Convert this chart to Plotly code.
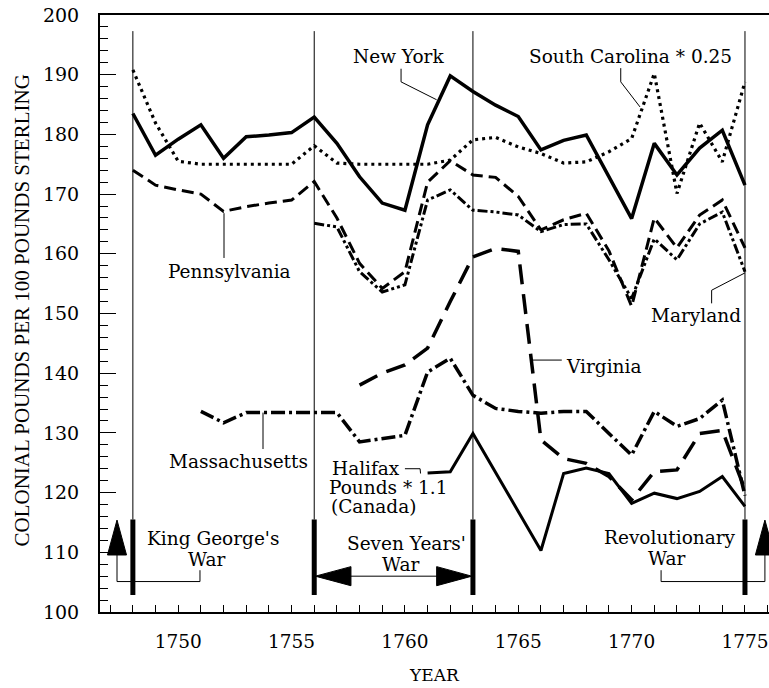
import plotly.graph_objects as go

# ---------------- data ----------------
years_full = list(range(1748, 1776))
new_york = [183.5, 176.5, 179.2, 181.6, 176.0, 179.6, 179.9, 180.3, 182.9, 178.5,
            172.9, 168.5, 167.3, 181.6, 189.8, 187.2, 184.9, 183.0, 177.4, 179.0,
            179.9, 172.9, 165.9, 178.5, 173.2, 177.7, 180.7, 171.5]
south_carolina = [190.8, 181.9, 175.5, 175.0, 175.0, 175.0, 175.0, 175.0, 178.1, 175.2,
                  175.0, 175.0, 175.0, 175.0, 175.7, 179.1, 179.5, 177.9, 176.8, 175.2,
                  175.4, 177.1, 179.3, 190.2, 170.1, 181.9, 175.4, 188.8]
pennsylvania = [174.0, 171.5, 170.7, 170.0, 167.1, 167.9, 168.5, 169.0, 172.1, 166.0,
                158.4, 154.2, 157.0, 172.0, 175.6, 173.2, 172.8, 169.6, 164.0, 165.7,
                166.8, 160.5, 151.2, 166.0, 161.0, 166.5, 169.0, 161.0]
years_maryland = list(range(1756, 1776))
maryland = [165.1, 164.5, 157.0, 153.6, 154.8, 169.0, 170.7, 167.3, 167.0, 166.5,
            163.7, 164.9, 165.0, 159.0, 152.5, 162.5, 159.0, 165.0, 167.0, 157.0]
years_virginia = list(range(1758, 1776))
virginia = [138.0, 140.0, 141.4, 144.2, 152.0, 159.5, 160.9, 160.4, 128.8, 125.7,
            124.9, 122.7, 118.8, 123.5, 123.8, 129.9, 130.4, 120.5]
years_mass = list(range(1751, 1776))
massachusetts = [133.6, 131.7, 133.4, 133.4, 133.4, 133.4, 133.4, 128.5, 129.0, 129.6,
                 140.2, 142.5, 136.3, 134.1, 133.6, 133.3, 133.6, 133.6, 129.9, 126.3,
                 133.6, 131.1, 132.4, 135.5, 119.5]
years_halifax = [1761, 1762, 1763, 1766, 1767, 1768, 1769, 1770, 1771, 1772, 1773, 1774, 1775]
halifax = [123.3, 123.5, 129.9, 110.3, 123.2, 124.1, 123.2, 118.2, 119.9, 119.0, 120.2, 122.7, 117.7]

war_years = [1748, 1756, 1763, 1775]
x_tick_vals = [1750, 1755, 1760, 1765, 1770, 1775]
y_tick_vals = [100, 110, 120, 130, 140, 150, 160, 170, 180, 190, 200]

FONT = "DejaVu Serif"
BLACK = "#000000"
LBL = 18.5

fig = go.Figure()

def add_series(x, y, width, dash):
    fig.add_trace(go.Scatter(x=x, y=y, mode="lines",
                             line=dict(color=BLACK, width=width, dash=dash),
                             showlegend=False, hoverinfo="skip"))

add_series(years_full, south_carolina, 3.2, "3px,4px")
add_series(years_full, pennsylvania, 3, "12px,6px")
add_series(years_maryland, maryland, 3, "10px,3px,3px,3px,3px,3px")
add_series(years_virginia, virginia, 3.5, "20px,10px")
add_series(years_mass, massachusetts, 3.5, "14px,4px,3px,4px")
add_series(years_halifax, halifax, 3, "solid")
add_series(years_full, new_york, 3.5, "solid")

shapes = []
# war boundary lines: thin above, thick at bottom
for wy in war_years:
    shapes.append(dict(type="line", xref="x", yref="y", x0=wy, x1=wy, y0=115.5, y1=197.3,
                       line=dict(color=BLACK, width=1)))
    shapes.append(dict(type="line", xref="x", yref="y", x0=wy, x1=wy, y0=102.85, y1=115.5,
                       line=dict(color=BLACK, width=5)))

def tri(points):
    p = "M " + " L ".join(f"{x},{y}" for x, y in points) + " Z"
    return dict(type="path", xref="x", yref="y", path=p, fillcolor=BLACK,
                line=dict(color=BLACK, width=1))

def seg(x0, y0, x1, y1, w=1):
    return dict(type="line", xref="x", yref="y", x0=x0, y0=y0, x1=x1, y1=y1,
                line=dict(color=BLACK, width=w))

# King George's War arrow (up, at left)
kx = 1747.30
shapes.append(tri([(kx, 115.4), (kx - 0.42, 109.55), (kx + 0.42, 109.55)]))
shapes.append(seg(kx, 109.55, kx, 105.1))
shapes.append(seg(kx, 105.1, 1750.96, 105.1))
shapes.append(seg(1750.96, 105.1, 1750.96, 107.0))
# Revolutionary War arrow (up, at right)
rx = 1775.88
shapes.append(tri([(rx, 115.4), (rx - 0.42, 109.55), (rx + 0.42, 109.55)]))
shapes.append(seg(rx, 109.55, rx, 105.1))
shapes.append(seg(rx, 105.1, 1771.3, 105.1))
shapes.append(seg(1771.3, 105.1, 1771.3, 107.0))
# Seven Years' War double arrow
sy = 106.0
shapes.append(seg(1757.5, sy, 1761.5, sy))
shapes.append(tri([(1756.05, sy), (1757.62, sy + 1.6), (1757.62, sy - 1.6)]))
shapes.append(tri([(1762.95, sy), (1761.40, sy + 1.6), (1761.40, sy - 1.6)]))

# leader lines
shapes += [
    seg(1759.83, 191.0, 1759.83, 188.8), seg(1759.83, 188.8, 1761.40, 185.8),   # New York
    seg(1769.52, 191.1, 1769.52, 188.8), seg(1769.52, 188.8, 1770.37, 184.6),   # South Carolina
    seg(1752.02, 166.8, 1752.02, 159.3),                                         # Pennsylvania
    seg(1753.74, 133.4, 1753.74, 127.3),                                         # Massachusetts
    seg(1765.65, 142.2, 1766.92, 142.2),                                         # Virginia
    seg(1773.53, 151.7, 1773.53, 153.9), seg(1773.53, 153.9, 1775.0, 156.8),     # Maryland
    seg(1760.0, 124.0, 1760.67, 124.0), seg(1760.67, 124.0, 1760.69, 123.2),     # Halifax
]

fig.update_layout(shapes=shapes)

ann = []
def label(x, y, text, xanchor="center", size=LBL):
    ann.append(dict(x=x, y=y, xref="x", yref="y", text=text, showarrow=False,
                    xanchor=xanchor, yanchor="middle",
                    font=dict(family=FONT, size=size, color=BLACK)))

label(1759.70, 193.0, "New York")
label(1769.93, 193.0, "South Carolina * 0.25")
label(1752.28, 157.0, "Pennsylvania")
label(1752.64, 125.2, "Massachusetts")
label(1768.75, 141.1, "Virginia")
label(1772.83, 149.6, "Maryland")
label(1756.70, 124.1, "Halifax", "left")
label(1756.56, 120.8, "Pounds * 1.1", "left")
label(1756.65, 117.6, "(Canada)", "left")
label(1751.55, 112.3, "King George's")
label(1751.26, 108.8, "War")
label(1760.08, 111.4, "Seven Years'")
label(1759.81, 107.9, "War")
label(1771.69, 112.4, "Revolutionary")
label(1771.54, 109.0, "War")

ann.append(dict(x=-0.1166, y=0.505, xref="paper", yref="paper",
                text="COLONIAL POUNDS PER 100 POUNDS STERLING", showarrow=False,
                textangle=-90, xanchor="center", yanchor="middle",
                font=dict(family="Liberation Serif", size=21, color=BLACK)))
ann.append(dict(x=0.5, y=-0.1055, xref="paper", yref="paper", text="YEAR",
                showarrow=False, xanchor="center", yanchor="middle",
                font=dict(family=FONT, size=17, color=BLACK)))
fig.update_layout(annotations=ann)

fig.update_layout(
    width=769, height=688,
    margin=dict(l=100, r=0, t=15, b=76),
    paper_bgcolor="white", plot_bgcolor="white",
    showlegend=False,
    font=dict(family=FONT, size=18, color=BLACK),
    xaxis=dict(range=[1746.55, 1776.06], showgrid=False, zeroline=False,
               showline=True, linecolor=BLACK, linewidth=2, mirror=True,
               tickmode="array", tickvals=x_tick_vals,
               ticktext=[str(v) for v in x_tick_vals],
               ticks="inside", ticklen=7, tickwidth=1, tickcolor=BLACK,
               ticklabelstandoff=12,
               minor=dict(dtick=1, tick0=1748, ticks="inside", ticklen=7,
                          tickwidth=1, tickcolor=BLACK, showgrid=False),
               tickfont=dict(family=FONT, size=18.5, color=BLACK)),
    yaxis=dict(range=[100, 200], showgrid=False, zeroline=False,
               showline=True, linecolor=BLACK, linewidth=2, mirror=False,
               tickmode="array", tickvals=y_tick_vals,
               ticktext=[str(v) for v in y_tick_vals],
               ticks="inside", ticklen=16, tickwidth=1, tickcolor=BLACK,
               ticklabelstandoff=15,
               minor=dict(dtick=2, tick0=100, ticks="inside", ticklen=8,
                          tickwidth=1, tickcolor=BLACK, showgrid=False),
               tickfont=dict(family=FONT, size=19, color=BLACK)),
)

fig.write_html("out.html",
               config={"displayModeBar": False},
               post_script="document.body.style.margin='0px';"
                           "document.body.style.overflow='hidden';")
